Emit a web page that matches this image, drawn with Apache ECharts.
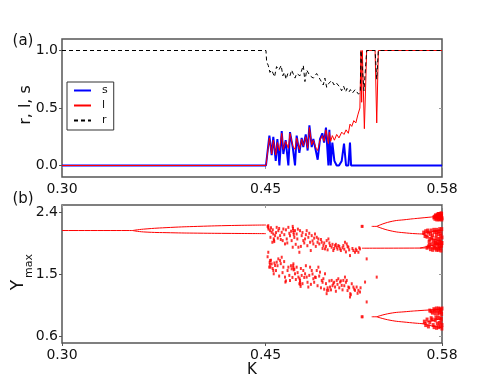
<!DOCTYPE html>
<html>
<head>
<meta charset="utf-8">
<style>
  html, body { margin: 0; padding: 0; background: #fff; }
  #chart { width: 491px; height: 382px; }
</style>
<script src="https://cdn.jsdelivr.net/npm/echarts@6/dist/echarts.min.js"></script>
</head>
<body>
<div id="chart"></div>
<script>
// tick labels
const kTicks = [0.30, 0.45, 0.58];
const topYTicks = [0.0, 0.5, 1.0];
const botYTicks = [0.6, 1.5, 2.4];

// panel (a): [K, value]
const sData = [[0.30,0],[0.4503,0],[0.4528,0.26],[0.4545,0.09],[0.4557,0.25],[0.4575,0.04],[0.4587,0.23],[0.4602,0],[0.4619,0.30],[0.4631,0.10],[0.4648,0.22],[0.4668,0],[0.4680,0.29],[0.4700,0.16],[0.4717,0],[0.4729,0.26],[0.4749,0.11],[0.4766,0.24],[0.4778,0.16],[0.4796,0.27],[0.4810,0.13],[0.4823,0.35],[0.4840,0.16],[0.4852,0.23],[0.4872,0.12],[0.4884,0.05],[0.4901,0.23],[0.4918,0.28],[0.4931,0.20],[0.4945,0.33],[0.4963,0],[0.4970,0.31],[0.4980,0],[0.4992,0.20],[0.5007,0.04],[0.5024,0],[0.5041,0],[0.5061,0.04],[0.5078,0.19],[0.5093,0],[0.5110,0],[0.5122,0.20],[0.5130,0],[0.58,0]];
const lData = [[0.30,0],[0.4503,0],[0.4528,0.24],[0.4545,0.10],[0.4557,0.22],[0.4575,0.09],[0.4587,0.20],[0.4602,0.13],[0.4619,0.28],[0.4631,0.14],[0.4648,0.21],[0.4668,0.15],[0.4680,0.28],[0.4700,0.17],[0.4717,0.14],[0.4729,0.24],[0.4749,0.14],[0.4766,0.23],[0.4778,0.17],[0.4796,0.25],[0.4810,0.15],[0.4823,0.33],[0.4840,0.18],[0.4852,0.22],[0.4872,0.15],[0.4884,0.13],[0.4901,0.22],[0.4918,0.26],[0.4931,0.21],[0.4945,0.31],[0.4963,0.19],[0.4970,0.29],[0.4980,0.21],[0.4992,0.26],[0.5007,0.22],[0.5024,0.27],[0.5041,0.24],[0.5061,0.29],[0.5078,0.27],[0.5093,0.31],[0.5110,0.28],[0.5122,0.36],[0.5135,0.34],[0.5150,0.39],[0.5165,0.37],[0.5180,0.44],[0.5195,0.50],[0.5203,1.0],[0.5208,0.55],[0.5213,1.0],[0.5228,0.32],[0.5245,1.0],[0.5307,1.0],[0.5319,0.37],[0.5331,1.0],[0.58,1.0]];
const rData = [[0.30,1],[0.4503,1],[0.4508,0.90],[0.4520,0.87],[0.4532,0.81],[0.4544,0.83],[0.4556,0.80],[0.4566,0.77],[0.4581,0.86],[0.4598,0.83],[0.4615,0.87],[0.4627,0.78],[0.4639,0.81],[0.4651,0.75],[0.4664,0.80],[0.4680,0.78],[0.4692,0.83],[0.4717,0.76],[0.4729,0.80],[0.4753,0.78],[0.4778,0.87],[0.4790,0.73],[0.4803,0.83],[0.4827,0.78],[0.4852,0.76],[0.4876,0.80],[0.4901,0.75],[0.4925,0.70],[0.4937,0.76],[0.4950,0.68],[0.4963,0.71],[0.4987,0.74],[0.5005,0.70],[0.5020,0.72],[0.5048,0.68],[0.5060,0.65],[0.5075,0.69],[0.5090,0.64],[0.5100,0.67],[0.5115,0.64],[0.5125,0.66],[0.5140,0.63],[0.5160,0.66],[0.5185,0.62],[0.5198,0.64],[0.5203,1.0],[0.5213,1.0],[0.5225,0.65],[0.5245,1.0],[0.5307,1.0],[0.5319,0.75],[0.5331,1.0],[0.58,1.0]];

// panel (b): bifurcation branches [K, Ymax]
const p1Branch = [[0.30,2.13],[0.352,2.13]];
const p2Upper = [[0.352,2.13],[0.36,2.15],[0.38,2.175],[0.40,2.19],[0.425,2.203],[0.4503,2.21]];
const p2Lower = [[0.352,2.13],[0.36,2.11],[0.38,2.098],[0.40,2.092],[0.425,2.088],[0.4503,2.085]];
const w1 = [[0.5282,2.19],[0.5319,2.19]];
const w1Upper = [[0.5319,2.19],[0.5417,2.257],[0.554,2.29],[0.5638,2.31],[0.58,2.34]];
const w1Lower = [[0.5319,2.19],[0.5417,2.128],[0.554,2.094],[0.5655,2.08]];
const w1LowerA = [[0.5655,2.08],[0.572,2.11],[0.58,2.13]];
const w1LowerB = [[0.5655,2.08],[0.572,2.02],[0.58,1.97]];
const w2 = [[0.5210,1.874],[0.5638,1.876],[0.58,1.885]];
const w2Fan = [[0.5638,1.876],[0.572,1.91],[0.58,1.94]];
const w3 = [[0.5282,0.88],[0.5319,0.88]];
const w3Upper = [[0.5319,0.88],[0.5417,0.93],[0.554,0.955],[0.5638,0.97],[0.58,0.99]];
const w3Lower = [[0.5319,0.88],[0.5417,0.83],[0.554,0.80],[0.5655,0.78]];
const w3LowerA = [[0.5655,0.78],[0.572,0.82],[0.58,0.85]];
const w3LowerB = [[0.5655,0.78],[0.572,0.75],[0.58,0.72]];

const chaosUpper = [[0.4520,2.200],[0.4533,2.128],[0.4545,2.104],[0.4557,2.080],[0.4536,2.032],[0.4570,2.056],[0.4550,1.960],[0.4582,2.176],[0.4594,2.128],[0.4607,2.056],[0.4619,2.104],[0.4631,2.152],[0.4626,1.984],[0.4643,1.936],[0.4656,2.008],[0.4668,2.176],[0.4680,2.056],[0.4692,1.984],[0.4700,1.888],[0.4717,2.128],[0.4729,2.080],[0.4734,2.008],[0.4742,1.888],[0.4749,1.815],[0.4754,2.128],[0.4766,2.056],[0.4778,1.984],[0.4791,2.008],[0.4803,2.128],[0.4815,2.032],[0.4828,1.960],[0.4833,1.840],[0.4840,2.056],[0.4852,1.936],[0.4864,2.080],[0.4877,2.032],[0.4889,2.008],[0.4896,1.936],[0.4914,1.960],[0.4926,1.912],[0.4938,1.864],[0.4950,1.984],[0.4963,2.008],[0.4975,1.912],[0.4987,1.888],[0.4999,1.840],[0.5012,1.912],[0.5024,1.888],[0.5036,1.912],[0.5049,1.864],[0.5073,1.912],[0.5085,1.960],[0.5098,1.936],[0.5110,1.888],[0.5122,1.767],[0.5147,1.840],[0.5159,1.815],[0.5171,1.840],[0.5184,1.815],[0.5196,1.864],[0.5245,1.719],[0.4520,2.170],[0.4522,2.150],[0.4700,2.190],[0.4702,2.160],[0.4704,2.130],[0.4706,2.100],[0.4708,2.070],[0.4560,2.010],[0.4562,1.990],[0.4564,1.970],[0.5208,2.19],[0.5215,2.19],
  [0.4515,2.19],[0.4540,2.17],[0.4553,2.14],[0.4577,2.10],[0.4590,2.02],[0.4600,2.16],[0.4612,2.00],[0.4638,2.07],[0.4650,2.14],[0.4660,1.95],[0.4675,2.09],[0.4688,2.12],[0.4712,2.03],[0.4722,1.93],[0.4738,2.15],[0.4760,1.90],[0.4772,2.10],[0.4785,1.95],[0.4797,2.07],[0.4808,1.91],[0.4822,2.09],[0.4846,1.98],[0.4858,2.02],[0.4870,1.90],[0.4883,1.96],[0.4908,2.00],[0.4920,1.87],[0.4932,1.95],[0.4945,1.90],[0.4957,1.85],[0.4970,1.95],[0.4993,1.93],[0.5005,1.87],[0.5018,1.93],[0.5030,1.86],[0.5043,1.90],[0.5055,1.84],[0.5067,1.88],[0.5080,1.86],[0.5092,1.82],[0.5104,1.90],[0.5116,1.85],[0.5140,1.87],[0.5165,1.86],[0.5190,1.88]];
const chaosLower = [[0.4520,1.815],[0.4533,1.695],[0.4536,1.599],[0.4545,1.647],[0.4557,1.551],[0.4560,1.503],[0.4570,1.623],[0.4582,1.671],[0.4594,1.719],[0.4607,1.695],[0.4619,1.743],[0.4631,1.599],[0.4643,1.455],[0.4646,1.383],[0.4668,1.599],[0.4680,1.407],[0.4692,1.575],[0.4705,1.647],[0.4717,1.503],[0.4729,1.599],[0.4742,1.455],[0.4749,1.359],[0.4751,1.431],[0.4754,1.407],[0.4766,1.479],[0.4778,1.551],[0.4791,1.503],[0.4803,1.455],[0.4815,1.311],[0.4828,1.599],[0.4840,1.551],[0.4852,1.431],[0.4864,1.455],[0.4877,1.551],[0.4889,1.599],[0.4901,1.527],[0.4914,1.407],[0.4926,1.431],[0.4938,1.503],[0.4950,1.215],[0.4952,1.263],[0.4963,1.263],[0.4975,1.311],[0.4987,1.407],[0.4999,1.359],[0.5012,1.311],[0.5024,1.407],[0.5036,1.431],[0.5049,1.383],[0.5061,1.335],[0.5073,1.407],[0.5085,1.455],[0.5098,1.407],[0.5110,1.311],[0.5122,1.167],[0.5124,1.215],[0.5135,1.359],[0.5147,1.311],[0.5159,1.263],[0.5171,1.311],[0.5184,1.263],[0.5196,1.239],[0.5233,1.383],[0.5245,1.095],[0.5319,1.455],[0.4754,1.380],[0.4756,1.350],[0.4758,1.320],[0.4703,1.620],[0.4705,1.590],[0.4707,1.560],[0.4530,1.670],[0.4532,1.640],[0.5208,0.88],[0.5215,0.88],
  [0.4515,1.75],[0.4527,1.60],[0.4540,1.70],[0.4552,1.58],[0.4565,1.66],[0.4577,1.55],[0.4588,1.62],[0.4600,1.47],[0.4612,1.65],[0.4625,1.52],[0.4637,1.68],[0.4650,1.40],[0.4662,1.55],[0.4675,1.48],[0.4687,1.62],[0.4698,1.45],[0.4712,1.57],[0.4723,1.42],[0.4736,1.52],[0.4760,1.58],[0.4772,1.36],[0.4785,1.45],[0.4797,1.62],[0.4809,1.38],[0.4822,1.48],[0.4834,1.35],[0.4846,1.50],[0.4858,1.38],[0.4870,1.45],[0.4883,1.33],[0.4895,1.47],[0.4908,1.30],[0.4920,1.38],[0.4932,1.28],[0.4945,1.36],[0.4957,1.30],[0.4970,1.40],[0.4982,1.27],[0.4993,1.33],[0.5005,1.38],[0.5018,1.25],[0.5030,1.35],[0.5043,1.30],[0.5055,1.40],[0.5067,1.27],[0.5080,1.33],[0.5092,1.38],[0.5104,1.26],[0.5116,1.30],[0.5128,1.20],[0.5153,1.28],[0.5178,1.22],[0.5200,1.30]];
const endBands = [[0.5745,2.33],[0.5752,2.35],[0.5760,2.31],[0.5765,2.36],[0.5770,2.34],[0.5775,2.30],[0.5778,2.37],[0.5782,2.33],[0.5786,2.36],[0.5790,2.31],[0.5793,2.38],[0.5796,2.34],[0.5799,2.29],[0.5680,2.12],[0.5690,2.04],[0.5700,2.10],[0.5710,2.00],[0.5720,2.13],[0.5730,2.06],[0.5735,1.98],[0.5745,2.11],[0.5755,2.02],[0.5760,2.14],[0.5768,1.96],[0.5775,2.08],[0.5780,2.12],[0.5785,2.00],[0.5790,2.05],[0.5795,1.95],[0.5798,2.15],[0.5700,1.90],[0.5715,1.86],[0.5725,1.93],[0.5740,1.88],[0.5750,1.95],[0.5760,1.85],[0.5770,1.92],[0.5778,1.87],[0.5785,1.94],[0.5792,1.84],[0.5797,1.91],[0.5720,0.96],[0.5740,0.99],[0.5750,0.93],[0.5765,0.97],[0.5775,1.00],[0.5782,0.94],[0.5790,0.98],[0.5797,0.92],[0.5690,0.84],[0.5700,0.74],[0.5720,0.86],[0.5735,0.76],[0.5750,0.83],[0.5760,0.72],[0.5770,0.87],[0.5780,0.79],[0.5788,0.74],[0.5795,0.85],[0.5799,0.71],
  [0.5740,2.32],[0.5748,2.30],[0.5756,2.34],[0.5762,2.29],[0.5768,2.33],[0.5773,2.37],[0.5780,2.29],[0.5784,2.35],[0.5788,2.30],[0.5792,2.34],[0.5797,2.37],[0.5800,2.31],
  [0.5665,2.10],[0.5675,2.05],[0.5695,2.13],[0.5705,1.97],[0.5715,2.08],[0.5725,2.02],[0.5740,2.14],[0.5750,1.97],[0.5758,2.07],[0.5763,2.11],[0.5772,2.01],[0.5783,2.15],[0.5788,1.97],[0.5793,2.09],[0.5800,2.03],
  [0.5690,1.88],[0.5708,1.92],[0.5732,1.85],[0.5745,1.92],[0.5755,1.87],[0.5765,1.94],[0.5775,1.85],[0.5782,1.91],[0.5790,1.88],[0.5800,1.95],
  [0.5710,0.97],[0.5730,0.94],[0.5745,0.97],[0.5758,1.00],[0.5770,0.93],[0.5785,0.99],[0.5793,0.95],[0.5800,1.00],
  [0.5670,0.81],[0.5680,0.76],[0.5710,0.80],[0.5728,0.84],[0.5742,0.73],[0.5755,0.87],[0.5765,0.78],[0.5775,0.73],[0.5785,0.86],[0.5792,0.80],[0.5800,0.76]];

const branches = [p1Branch, p2Upper, p2Lower, w1, w1Upper, w1Lower, w1LowerA, w1LowerB, w2, w2Fan, w3, w3Upper, w3Lower, w3LowerA, w3LowerB];

const FONT = 'DejaVu Sans';
const frame = '#555';

const chart = echarts.init(document.getElementById('chart'));

function xAxes(gridIndex) {
  return [
    {
      type: 'value', gridIndex: gridIndex, min: 0.30, max: 0.58,
      axisLine: { show: false },
      splitLine: { show: false },
      axisTick: { show: true, customValues: kTicks, inside: false, length: 3, lineStyle: { color: frame } },
      axisLabel: { customValues: kTicks, formatter: v => v.toFixed(2), margin: 5, color: '#111', fontFamily: FONT, fontSize: 14 }
    },
    {
      type: 'value', gridIndex: gridIndex, position: 'top', min: 0.30, max: 0.58,
      axisLine: { show: false },
      splitLine: { show: false },
      axisTick: { show: true, customValues: kTicks, inside: true, length: 3, lineStyle: { color: '#999' } },
      axisLabel: { show: false }
    }
  ];
}

function yAxes(gridIndex, min, max, ticks) {
  return [
    {
      type: 'value', gridIndex: gridIndex, min: min, max: max,
      axisLine: { show: false },
      splitLine: { show: false },
      axisTick: { show: true, customValues: ticks, inside: false, length: 3, lineStyle: { color: frame } },
      axisLabel: { customValues: ticks, formatter: v => v.toFixed(1), margin: 4, color: '#111', fontFamily: FONT, fontSize: 14 }
    },
    {
      type: 'value', gridIndex: gridIndex, position: 'right', min: min, max: max,
      axisLine: { show: false },
      splitLine: { show: false },
      axisTick: { show: true, customValues: ticks, inside: true, length: 3, lineStyle: { color: '#999' } },
      axisLabel: { show: false }
    }
  ];
}

const series = [
  { name: 's', type: 'line', xAxisIndex: 0, yAxisIndex: 0, data: sData, symbol: 'none',
    lineStyle: { color: '#0000ff', width: 2 }, itemStyle: { color: '#0000ff' } },
  { name: 'l', type: 'line', xAxisIndex: 0, yAxisIndex: 0, data: lData, symbol: 'none',
    lineStyle: { color: '#ff0000', width: 1 }, itemStyle: { color: '#ff0000' } },
  { name: 'r', type: 'line', xAxisIndex: 0, yAxisIndex: 0, data: rData, symbol: 'none',
    lineStyle: { color: '#000', width: 1, type: [4, 3] }, itemStyle: { color: '#000' } }
];

branches.forEach(b => {
  series.push({ type: 'line', xAxisIndex: 2, yAxisIndex: 2, data: b, symbol: 'none', smooth: true,
    lineStyle: { color: '#ff0000', width: 1 }, silent: true });
});
series.push({ type: 'scatter', xAxisIndex: 2, yAxisIndex: 2, data: chaosUpper.concat(chaosLower),
  symbol: 'rect', symbolSize: [2, 3], itemStyle: { color: '#ff0000' }, silent: true });
series.push({ type: 'scatter', xAxisIndex: 2, yAxisIndex: 2, data: endBands,
  symbol: 'rect', symbolSize: [3, 4], itemStyle: { color: '#ff0000' }, silent: true });

chart.setOption({
  animation: false,
  backgroundColor: '#fff',
  grid: [
    { left: 62, top: 39, width: 380, height: 138, show: true, borderColor: frame, borderWidth: 1.5, backgroundColor: 'transparent' },
    { left: 62, top: 205, width: 380, height: 138, show: true, borderColor: frame, borderWidth: 1.5, backgroundColor: 'transparent' }
  ],
  xAxis: xAxes(0).concat(xAxes(1)),
  yAxis: yAxes(0, -0.1, 1.1, topYTicks).concat(yAxes(1, 0.5, 2.5, botYTicks)),
  legend: {
    data: ['s', 'l', 'r'],
    orient: 'vertical',
    left: 67, top: 82,
    padding: [3, 6, 4, 6],
    itemWidth: 17, itemHeight: 10, itemGap: 4,
    itemStyle: { opacity: 0 },
    borderColor: '#333', borderWidth: 1,
    backgroundColor: '#fff',
    textStyle: { fontFamily: FONT, fontSize: 11, color: '#111', padding: [0, 0, 0, 6] }
  },
  graphic: [
    { type: 'text', x: 23, y: 41, style: { text: '(a)', font: '15px "DejaVu Sans"', fill: '#111', textAlign: 'center', textVerticalAlign: 'middle', align: 'center', verticalAlign: 'middle' } },
    { type: 'text', x: 23, y: 199, style: { text: '(b)', font: '15px "DejaVu Sans"', fill: '#111', textAlign: 'center', textVerticalAlign: 'middle', align: 'center', verticalAlign: 'middle' } },
    { type: 'text', x: 26, y: 105, rotation: Math.PI / 2, style: { text: 'r, l, s', font: '16px "DejaVu Sans"', fill: '#111', textAlign: 'center', textVerticalAlign: 'middle', align: 'center', verticalAlign: 'middle' } },
    { type: 'text', x: 19, y: 285, rotation: Math.PI / 2, style: { text: 'Y', font: '17px "DejaVu Sans"', fill: '#111', textAlign: 'center', textVerticalAlign: 'middle', align: 'center', verticalAlign: 'middle' } },
    { type: 'text', x: 29, y: 266, rotation: Math.PI / 2, style: { text: 'max', font: '11px "DejaVu Sans"', fill: '#111', textAlign: 'center', textVerticalAlign: 'middle', align: 'center', verticalAlign: 'middle' } },
    { type: 'text', x: 252, y: 370, style: { text: 'K', font: '15px "DejaVu Sans"', fill: '#111', textAlign: 'center', textVerticalAlign: 'middle', align: 'center', verticalAlign: 'middle' } }
  ],
  series: series
});
</script>
</body>
</html>
